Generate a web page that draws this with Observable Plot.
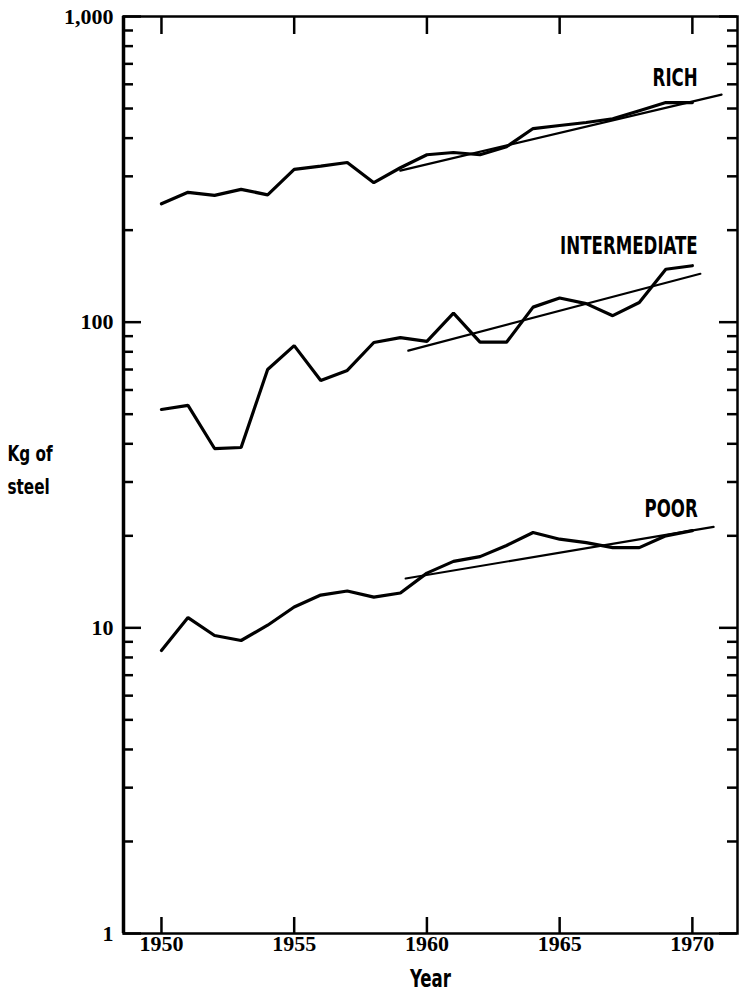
<!DOCTYPE html>
<html><head><meta charset="utf-8">
<script src="https://cdn.jsdelivr.net/npm/d3@7"></script>
<script src="https://cdn.jsdelivr.net/npm/@observablehq/plot@0.6"></script>
<style>body{margin:0;background:#fff;} svg{display:block;} .cond text{font-stretch:condensed;}</style>
</head><body><div id="chart"></div>
<script>
const years = [1950,1951,1952,1953,1954,1955,1956,1957,1958,1959,1960,1961,1962,1963,1964,1965,1966,1967,1968,1969,1970];
const rich = [244,266,260,272,261,316,324,333,286,320,353,359,353,375,430,440,450,463,492,523,523];
const intermediate = [51.8,53.4,38.6,38.9,70,83.8,64.4,69.5,85.8,89,86.5,107,86,86,112,120,115,105,116,149,153];
const poor = [8.43,10.8,9.44,9.09,10.2,11.7,12.8,13.2,12.6,13.0,15.1,16.5,17.1,18.6,20.5,19.5,19.0,18.3,18.3,20.0,20.8];

const trendX = {rich:[1959.0,1971.1], intermediate:[1959.3,1970.3], poor:[1959.2,1970.8]};
const trendY = {rich:[313,555], intermediate:[80.7,144], poor:[14.5,21.4]};

const seriesLabels = ["RICH","INTERMEDIATE","POOR"];
const labelYear = [1970.2,1970.2,1970.2];
const labelValue = [627,177,24.5];

const xTicks = [1950,1955,1960,1965,1970];
const yMajor = [1,10,100,1000];
const yMinor = [2,3,4,5,6,7,8,9,20,30,40,50,60,70,80,90,200,300,400,500,600,700,800,900];

const W = 741, H = 999, ML = 123, MR = 4, MT = 16, MB = 66;
const FW = W - ML - MR, FH = H - MT - MB;

const series = {rich, intermediate, poor};
const rows = [];
for (const k of Object.keys(series)) years.forEach((yr,i)=>rows.push({year:yr, value:series[k][i], s:k}));
const trows = [];
for (const k of Object.keys(trendX)) trendX[k].forEach((yr,i)=>trows.push({year:yr, value:trendY[k][i], s:k}));
const labels = seriesLabels.map((t,i)=>({t, x:labelYear[i], y:labelValue[i]}));

const sans = "'DejaVu Sans Condensed','DejaVu Sans',sans-serif";
const serif = "'Liberation Serif','Times New Roman',serif";

const chart = Plot.plot({
  width: W, height: H,
  marginLeft: ML, marginRight: MR, marginTop: MT, marginBottom: MB,
  style: {background:"#fff", color:"#000"},
  x: {domain:[1948.57,1971.7], label:null, axis:null},
  y: {type:"log", domain:[1,1000], label:null, axis:null},
  marks: [
    Plot.tickY(yMajor, {y:d=>d, insetRight: FW-18, strokeWidth:2.5}),
    Plot.tickY(yMinor, {y:d=>d, insetRight: FW-10, strokeWidth:2.5}),
    Plot.tickY(yMajor, {y:d=>d, insetLeft: FW-18, strokeWidth:2.5}),
    Plot.tickY(yMinor, {y:d=>d, insetLeft: FW-10, strokeWidth:2.5}),
    Plot.tickX(xTicks, {x:d=>d, insetBottom: FH-18, strokeWidth:2.5}),
    Plot.tickX(xTicks, {x:d=>d, insetTop: FH-16, strokeWidth:2.5}),
    Plot.text(yMajor, {y:d=>d, text:d3.format(","), frameAnchor:"left", dx:-10, textAnchor:"end", fontSize:22, fontFamily:serif, fontWeight:"bold", fill:"#000"}),
    Plot.text(xTicks, {x:d=>d, text:d=>String(d), frameAnchor:"bottom", dy:17, fontSize:22, fontFamily:serif, fontWeight:"bold", fill:"#000"}),
    Plot.frame({stroke:"#000", strokeWidth:2.5}),
    Plot.ruleX([1948.57], {stroke:"#000", strokeWidth:3.5}),
    Plot.line(rows, {x:"year", y:"value", z:"s", stroke:"#000", strokeWidth:3.2, strokeLinejoin:"miter"}),
    Plot.line(trows, {x:"year", y:"value", z:"s", stroke:"#000", strokeWidth:2.2}),
    Plot.text(labels, {x:"x", y:"y", text:"t", textAnchor:"end", fontSize:24, fontWeight:"bold", fontFamily:sans, fill:"#000", className:"cond"}),
    Plot.text(["Year"], {frameAnchor:"bottom", dy:53, text:d=>d, fontSize:24, fontWeight:"bold", fontFamily:sans, fill:"#000", className:"cond"}),
    Plot.text(["Kg of\nsteel"], {frameAnchor:"left", dx:-116, dy:-8, text:d=>d, textAnchor:"start", lineHeight:1.5, fontSize:22, fontWeight:"bold", fontFamily:sans, fill:"#000", className:"cond"})
  ]
});
// narrow the condensed bold lettering horizontally around each anchor
d3.select(chart).selectAll("g.cond text").each(function(){
  const el = d3.select(this);
  const t = el.attr("transform");
  if (t) el.attr("transform", t + " scale(0.77,1)");
  else {
    const x = +el.attr("x") || 0;
    el.attr("x", x / 0.77).attr("transform", "scale(0.77,1)");
  }
});
document.getElementById("chart").appendChild(chart);
</script>
</body></html>
